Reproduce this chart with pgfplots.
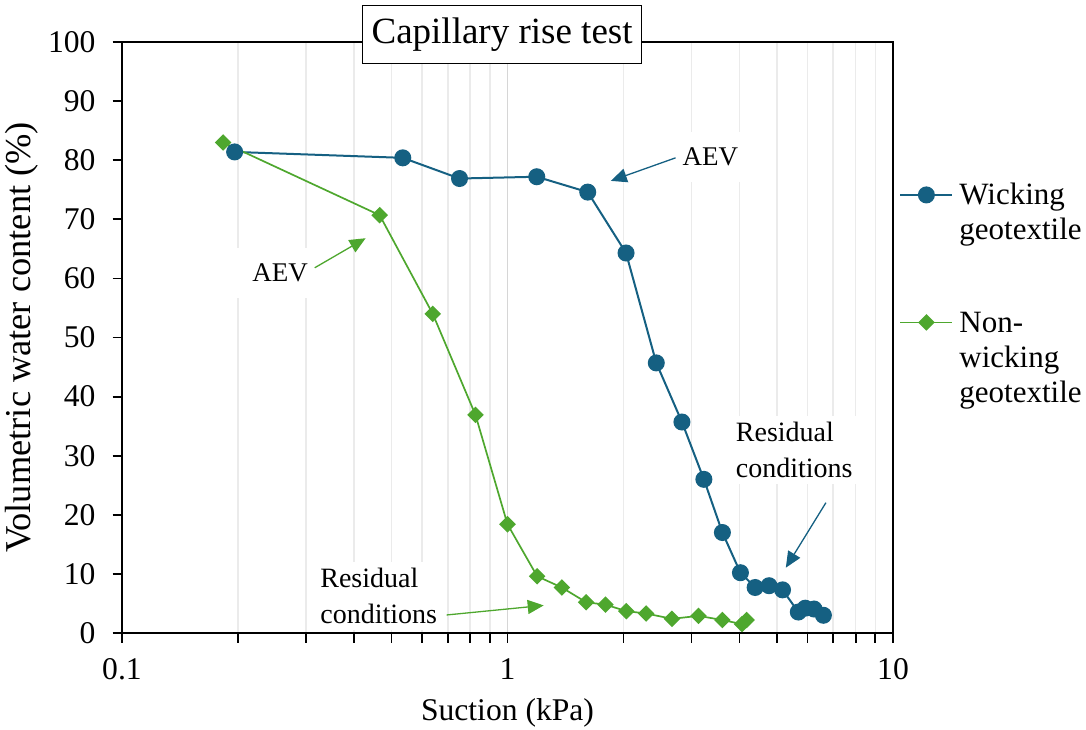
\documentclass[border=0pt]{standalone}
\usepackage{fontspec}
\setmainfont{Liberation Serif}
\usepackage{pgfplots}
\pgfplotsset{compat=1.18}
\usetikzlibrary{arrows.meta}

\definecolor{wick}{HTML}{156082}
\definecolor{nonwick}{HTML}{4EA72E}

\begin{document}
\begin{tikzpicture}
  \begin{axis}[
      scale only axis,
      width=385.5pt, height=295.5pt,
      xmode=log,
      xmin=0.1, xmax=10,
      ymin=0, ymax=100,
      ytick={0,10,20,30,40,50,60,70,80,90,100},
      xtick={0.1,1,10},
      xticklabels={0.1,1,10},
      minor xtick={0.2,0.3,0.4,0.5,0.6,0.7,0.8,0.9,2,3,4,5,6,7,8,9},
      xminorgrids=true, xmajorgrids=true,
      minor x grid style={color=black!8, line width=0.8pt},
      major x grid style={color=black!16, line width=0.8pt},
      tick align=outside,
      xtick pos=bottom, ytick pos=left,
      major tick length=4.75pt, minor tick length=4.75pt,
      every tick/.style={black, line width=0.9pt},
      axis line style={line width=1pt},
      /pgf/number format/assume math mode=true,
      ticklabel style={font=\fontsize{15.8}{18}\selectfont},
      xticklabel style={yshift=-4.5pt},
      yticklabel style={xshift=-5pt},
      xlabel={Suction (kPa)},
      ylabel={Volumetric water content (\%)},
      xlabel style={at={(axis description cs:0.5,0)}, anchor=center, yshift=-40pt,
        font=\fontsize{15.8}{18}\selectfont},
      ylabel style={at={(axis description cs:-0.1297,0.5)}, anchor=center,
        font=\fontsize{18.2}{20}\selectfont},
      title={Capillary rise test},
      every axis title/.style={at={(axis description cs:0.493,1)}, anchor=center, yshift=3.75pt,
        draw=black, line width=0.7pt, fill=white, inner xsep=4.5pt, inner ysep=6pt,
        font=\fontsize{18.5}{20}\selectfont},
      legend image code/.code={%
        \draw[mark repeat=2, mark phase=2, #1]
          plot coordinates {(0pt,5pt) (13pt,5pt) (26pt,5pt)};},
      legend style={at={(axis description cs:1,0.78)}, anchor=north west,
        draw=none, fill=none, row sep=46pt,
        font=\fontsize{15.5}{17.5}\selectfont,
        cells={anchor=base west},
        nodes={inner xsep=3pt}},
    ]
    \addplot[wick, line width=1pt, mark=*, mark size=3.75pt]
    coordinates {
      (0.196,81.4) (0.535,80.4) (0.751,76.9) (1.191,77.2) (1.615,74.6)
      (2.03,64.3) (2.432,45.7) (2.835,35.7) (3.232,26.0) (3.61,17.0)
      (4.02,10.2) (4.39,7.7) (4.77,8.0) (5.17,7.3) (5.68,3.55)
      (5.92,4.2) (6.24,4.06) (6.60,3.0)
    };
    \addlegendentry{\begin{tabular}[t]{@{}l@{}}Wicking\\geotextile\end{tabular}}
    \addplot[nonwick, line width=0.85pt, mark=square*, mark size=2.5pt,
      mark options={rotate=45}]
    coordinates {
      (0.183,83.0) (0.466,70.7) (0.640,54.0) (0.826,36.9) (1.00,18.4)
      (1.194,9.6) (1.383,7.7) (1.60,5.2) (1.795,4.8) (2.034,3.7)
      (2.29,3.3) (2.67,2.4) (3.13,2.9) (3.61,2.2) (4.06,1.5) (4.17,2.2)
    };
    \addlegendentry{\begin{tabular}[t]{@{}l@{}}Non-\\wicking\\geotextile\end{tabular}}

    % annotations
    \node[fill=white, inner xsep=12pt, inner ysep=8pt, font=\fontsize{13.5}{18}\selectfont]
      at (rel axis cs:0.763,0.805) {AEV};
    \draw[wick, line width=0.65pt, -{Triangle[length=8pt,width=7pt]}]
      (rel axis cs:0.718,0.804) -- (rel axis cs:0.634,0.765);
    \node[fill=white, inner xsep=12pt, inner ysep=8pt, font=\fontsize{13.5}{18}\selectfont]
      at (rel axis cs:0.205,0.609) {AEV};
    \draw[nonwick, line width=0.65pt, -{Triangle[length=8pt,width=7pt]}]
      (rel axis cs:0.250,0.618) -- (rel axis cs:0.316,0.668);
    \node[fill=white, anchor=west, align=left, inner sep=3pt, font=\fontsize{14}{18}\selectfont]
      at (rel axis cs:0.788,0.310) {Residual\\conditions};
    \draw[wick, line width=0.65pt, -{Triangle[length=8pt,width=7pt]}]
      (rel axis cs:0.913,0.2205) -- (rel axis cs:0.861,0.1105);
    \node[fill=white, anchor=west, align=left, inner sep=3pt, font=\fontsize{14}{18}\selectfont]
      at (rel axis cs:0.249,0.063) {Residual\\conditions};
    \draw[nonwick, line width=0.65pt, -{Triangle[length=8pt,width=7pt]}]
      (rel axis cs:0.421,0.0305) -- (rel axis cs:0.547,0.0467);
  \end{axis}
  \pgfresetboundingbox
  \path (-61pt,-48pt) rectangle (482pt,316.5pt);
\end{tikzpicture}
\end{document}
